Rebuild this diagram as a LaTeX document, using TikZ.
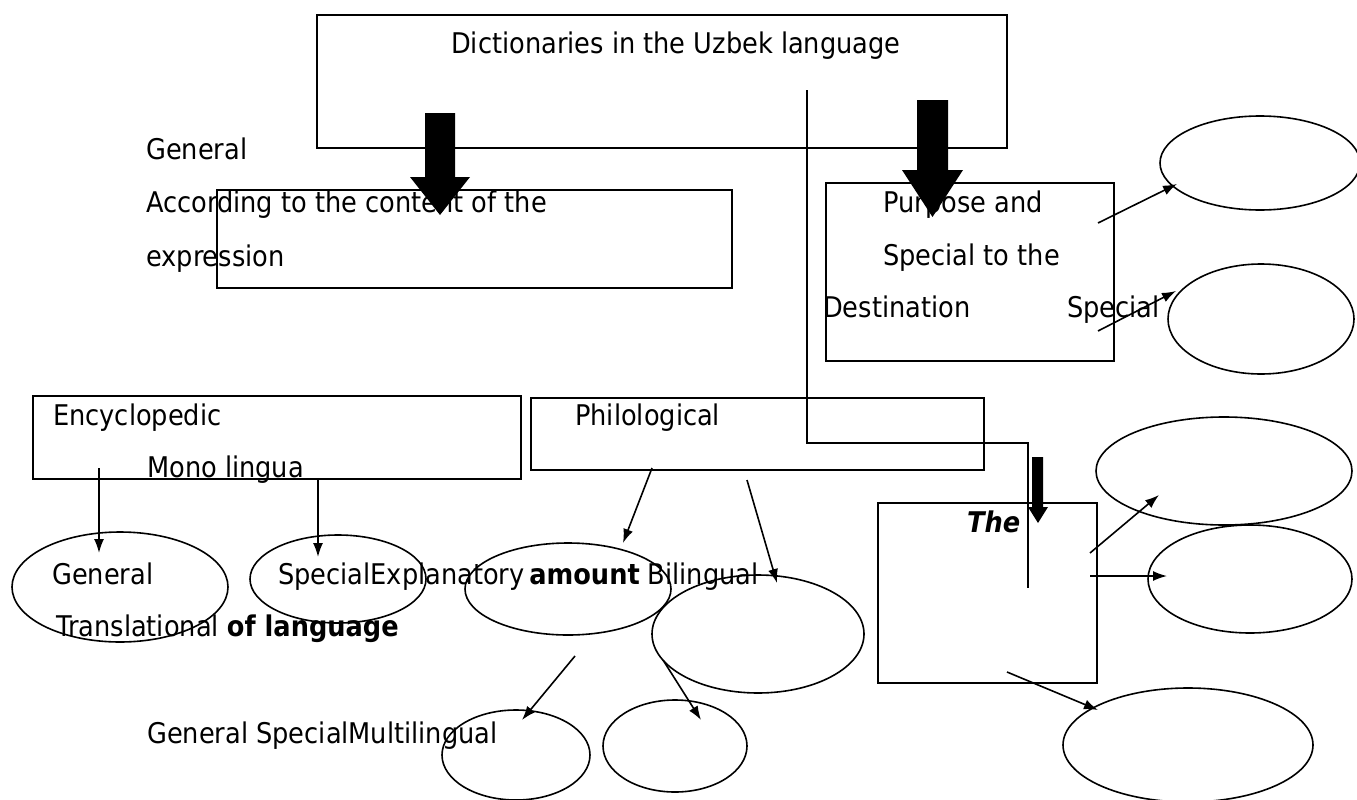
\documentclass[tikz,border=0pt]{standalone}
\usepackage{fontspec}
\setmainfont{DejaVu Sans}[FakeStretch=0.9]
\usetikzlibrary{positioning,arrows.meta,shapes.geometric}
\tikzset{
  box/.style={draw, line width=1.6pt, inner sep=0pt},
  oval/.style={draw, ellipse, line width=1.6pt, inner sep=0pt},
  txt/.style={anchor=base west, inner sep=0pt, font=\fontsize{28.5}{34}\selectfont},
  link/.style={line width=1.6pt, -{Latex[length=14pt,width=10pt]}}
}

\begin{document}
\begin{tikzpicture}[x=1pt,y=-1pt]
\useasboundingbox (0,0) rectangle (1357,800);
% boxes
\node[box, minimum width=690pt, minimum height=133pt] (uzbek) at (662,81.5) {};
\node[box, minimum width=515pt, minimum height=98pt] (content) at (474.5,239) {};
\node[box, minimum width=288pt, minimum height=178pt] (purpose) at (970,272) {};
\node[box, minimum width=488pt, minimum height=83pt] (encyc) at (277,437.5) {};
\node[box, minimum width=453pt, minimum height=72pt] (philo) at (757.5,434) {};
\node[box, minimum width=219pt, minimum height=180pt] (theb) at (987.5,593) {};
% ovals
\node[oval, minimum width=200pt, minimum height=94pt] (purpA) at (1260,163) {};
\node[oval, minimum width=186pt, minimum height=110pt] (purpB) at (1261,319) {};
\node[oval, minimum width=216pt, minimum height=110pt] (gen) at (120,587) {};
\node[oval, minimum width=176pt, minimum height=88pt] (spec) at (338,579) {};
\node[oval, minimum width=206pt, minimum height=92pt] (amount) at (568,589) {};
\node[oval, minimum width=212pt, minimum height=118pt] (bilin) at (758,634) {};
\node[oval, minimum width=148pt, minimum height=90pt] (multA) at (516,755) {};
\node[oval, minimum width=144pt, minimum height=92pt] (multB) at (675,746) {};
\node[oval, minimum width=256pt, minimum height=108pt] (theA) at (1224,471) {};
\node[oval, minimum width=204pt, minimum height=108pt] (theB) at (1250,579) {};
\node[oval, minimum width=250pt, minimum height=114pt] (theC) at (1188,745) {};
% texts
\node[txt] (t1) at (451,53) {Dictionaries in the Uzbek language};
\node[txt] (t2) at (146,159) {General};
\node[txt] (t3) at (146,212) {According to the content of the};
\node[txt] (t4) at (146,266) {expression};
\node[txt] (t5) at (883,212) {Purpose and};
\node[txt] (t6) at (883,265) {Special to the};
\node[txt] (t7) at (823,317) {Destination};
\node[txt] (t8) at (1067,317) {Special};
\node[txt] (t9) at (53,425) {Encyclopedic};
\node[txt] (t10) at (147,477) {Mono lingua};
\node[txt] (t11) at (575,425) {Philological};
\node[txt] (t12) at (52,584) {General};
\node[txt] (t13) at (278,584) {SpecialExplanatory\,\textbf{amount} Bilingual};
\node[txt] (t14) at (56,636) {Translational \textbf{of language}};
\node[txt] (t15) at (147,743) {General SpecialMultilingual};
\node[txt] (t16) at (967,532) {\textbf{\textit{The}}};
% thick arrows
\fill (425,113) -- (455,113) -- (455,177) -- (470,177) -- (440,215) -- (410,177) -- (425,177) -- cycle;
\fill (917,100) -- (948,100) -- (948,170) -- (963,170) -- (932.5,217) -- (902,170) -- (917,170) -- cycle;
\fill (1032,457) -- (1043,457) -- (1043,507) -- (1048,507) -- (1038,523) -- (1028,507) -- (1032,507) -- cycle;
% line from the top box
\coordinate (l1) at (807,90);
\coordinate (l2) at (807,443);
\coordinate (l3) at (1028,443);
\coordinate (l4) at (1028,588);
\draw[line width=1.6pt] (l1) -- (l2) -- (l3) -- (l4);
% thin arrows
\coordinate (a1) at (1098,223); \coordinate (b1) at (1177,184);
\coordinate (a2) at (1098,331); \coordinate (b2) at (1176,291);
\coordinate (a3) at (99,468);   \coordinate (b3) at (99,553);
\coordinate (a4) at (318,480);  \coordinate (b4) at (318,557);
\coordinate (a5) at (652,468);  \coordinate (b5) at (623,543);
\coordinate (a6) at (747,480);  \coordinate (b6) at (777,583);
\coordinate (a7) at (575,656);  \coordinate (b7) at (522,720);
\coordinate (a8) at (663,660);  \coordinate (b8) at (701,720);
\coordinate (a9) at (1090,553); \coordinate (b9) at (1159,495);
\coordinate (a10) at (1090,576); \coordinate (b10) at (1167,576);
\coordinate (a11) at (1007,672); \coordinate (b11) at (1098,710);
\foreach \i in {1,...,11}
  \draw[link] (a\i) -- (b\i);
\end{tikzpicture}
\end{document}
